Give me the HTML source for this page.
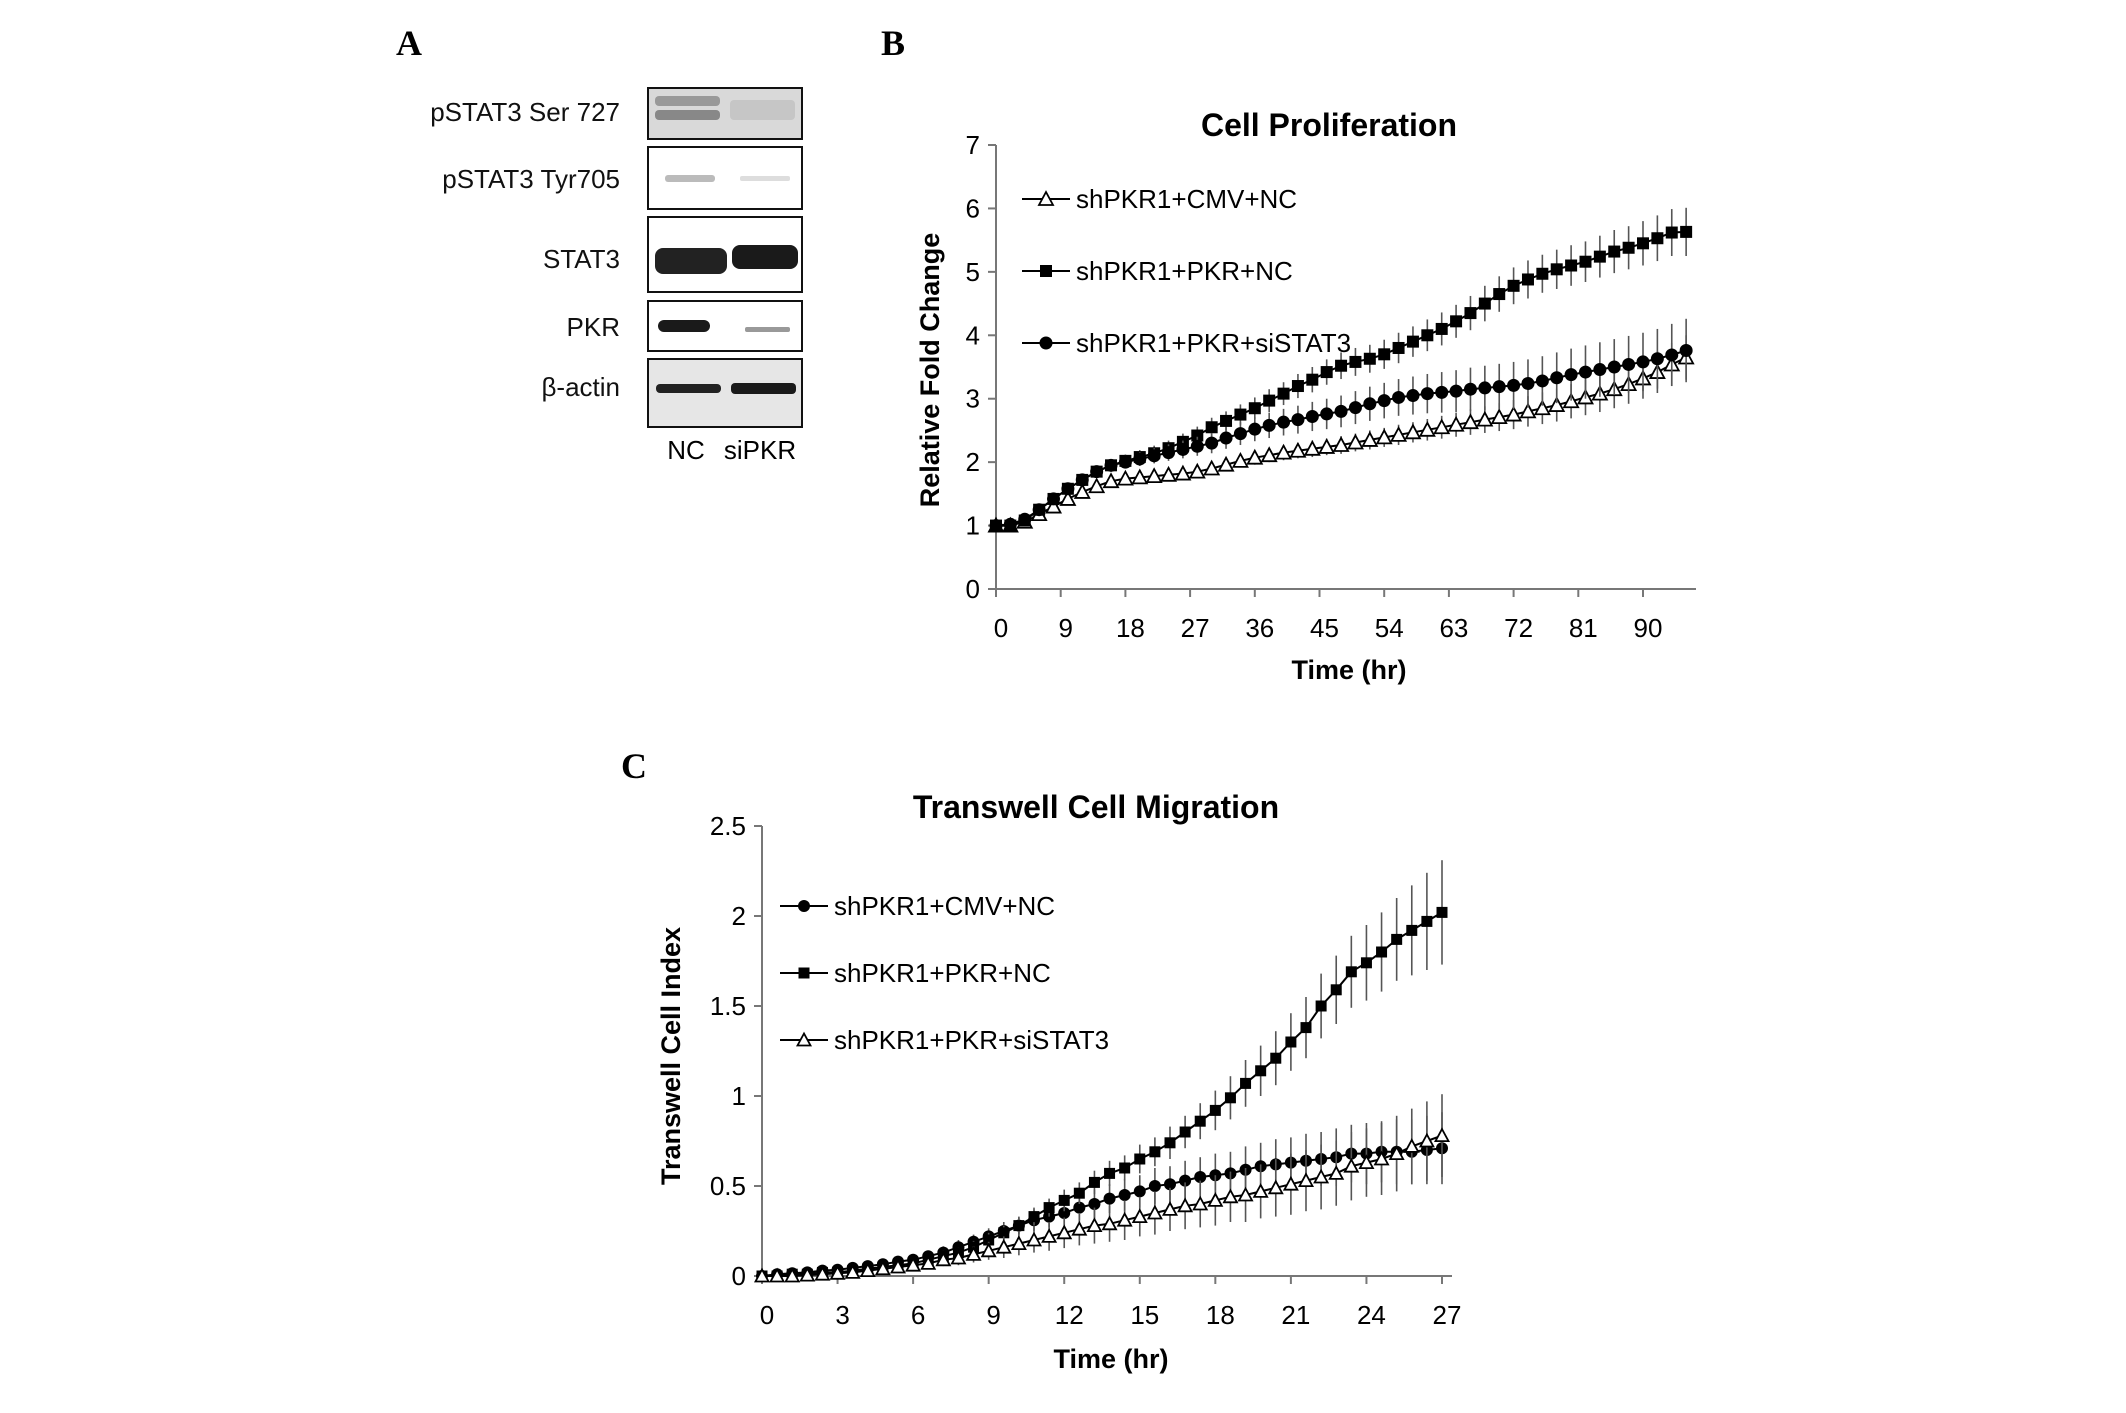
<!DOCTYPE html>
<html><head><meta charset="utf-8"><style>
html,body{margin:0;padding:0;background:#fff;}
body{width:2126px;height:1413px;overflow:hidden;position:relative;font-family:"Liberation Sans",sans-serif;}
svg{position:absolute;left:0;top:0;}
</style></head><body>
<svg id="fig" width="2126" height="1413" viewBox="0 0 2126 1413">
<g>
<text x="409" y="55" font-family="Liberation Serif" font-weight="bold" font-size="36" text-anchor="middle">A</text>
<g font-size="26" text-anchor="end" fill="#111">
<text x="620" y="121">pSTAT3 Ser 727</text>
<text x="620" y="188">pSTAT3 Tyr705</text>
<text x="620" y="268">STAT3</text>
<text x="620" y="336">PKR</text>
<text x="620" y="396">β-actin</text>
</g>
<g>
<rect x="648" y="88" width="154" height="51" fill="#d9d9d9" stroke="#111" stroke-width="2"/>
<rect x="655" y="96" width="65" height="10" rx="4" fill="#999"/>
<rect x="655" y="110" width="65" height="10" rx="4" fill="#888"/>
<rect x="730" y="100" width="65" height="20" rx="4" fill="#c6c6c6"/>
</g>
<g>
<rect x="648" y="147" width="154" height="62" fill="#fff" stroke="#111" stroke-width="2"/>
<rect x="665" y="175" width="50" height="7" rx="3" fill="#bbb"/>
<rect x="740" y="176" width="50" height="5" rx="2" fill="#ddd"/>
</g>
<g>
<rect x="648" y="217" width="154" height="75" fill="#fff" stroke="#111" stroke-width="2"/>
<rect x="655" y="248" width="72" height="26" rx="8" fill="#222"/>
<rect x="732" y="245" width="66" height="24" rx="8" fill="#1a1a1a"/>
</g>
<g>
<rect x="648" y="301" width="154" height="50" fill="#fff" stroke="#111" stroke-width="2"/>
<rect x="658" y="320" width="52" height="12" rx="6" fill="#1a1a1a"/>
<rect x="745" y="327" width="45" height="5" rx="2" fill="#999"/>
</g>
<g>
<rect x="648" y="359" width="154" height="68" fill="#e6e6e6" stroke="#111" stroke-width="2"/>
<rect x="656" y="384" width="65" height="9" rx="4" fill="#222"/>
<rect x="731" y="383" width="65" height="11" rx="4" fill="#1a1a1a"/>
</g>
<text x="686" y="459" font-size="26" text-anchor="middle">NC</text>
<text x="760" y="459" font-size="26" text-anchor="middle">siPKR</text>
</g>
<text x="893" y="55" font-family="Liberation Serif" font-weight="bold" font-size="36" text-anchor="middle">B</text>
<text x="634" y="778" font-family="Liberation Serif" font-weight="bold" font-size="36" text-anchor="middle">C</text>
<g id="chartB"></g>
<g id="chartC"></g>
</svg>
<script>
// ---- Chart B data ----
const bTimes = [0,2,4,6,8,10,12,14,16,18,20,22,24,26,28,30,32,34,36,38,40,42,44,46,48,50,52,54,56,58,60,62,64,66,68,70,72,74,76,78,80,82,84,86,88,90,92,94,96];
const bPKRNC = [1.0,1.0,1.08,1.25,1.42,1.58,1.72,1.85,1.95,2.02,2.08,2.14,2.22,2.32,2.42,2.55,2.65,2.75,2.85,2.97,3.08,3.2,3.3,3.42,3.52,3.58,3.63,3.7,3.8,3.9,4.0,4.1,4.22,4.35,4.5,4.65,4.78,4.88,4.97,5.04,5.1,5.16,5.24,5.32,5.38,5.45,5.53,5.62,5.63];
const bPKRNCErr = [0,0.02,0.03,0.05,0.06,0.07,0.08,0.09,0.1,0.1,0.11,0.12,0.12,0.13,0.14,0.15,0.15,0.16,0.17,0.18,0.18,0.19,0.2,0.2,0.21,0.22,0.22,0.23,0.24,0.24,0.25,0.26,0.26,0.27,0.28,0.28,0.29,0.3,0.3,0.31,0.32,0.32,0.33,0.34,0.34,0.35,0.36,0.37,0.38];
const bSiSTAT3 = [1.0,1.02,1.1,1.25,1.42,1.58,1.72,1.85,1.95,2.0,2.05,2.1,2.15,2.2,2.25,2.3,2.38,2.45,2.52,2.58,2.63,2.67,2.72,2.76,2.8,2.86,2.92,2.97,3.02,3.05,3.08,3.1,3.12,3.15,3.17,3.19,3.21,3.24,3.28,3.33,3.38,3.42,3.46,3.5,3.54,3.58,3.63,3.69,3.76];
const bSiSTAT3Err = [0,0.02,0.03,0.04,0.05,0.06,0.07,0.08,0.09,0.1,0.11,0.12,0.13,0.14,0.15,0.16,0.17,0.18,0.19,0.2,0.21,0.22,0.23,0.24,0.25,0.26,0.27,0.28,0.29,0.3,0.31,0.32,0.33,0.34,0.35,0.36,0.37,0.38,0.39,0.4,0.41,0.42,0.43,0.44,0.45,0.46,0.47,0.49,0.5];
const bCMVNC = [1.0,1.0,1.06,1.18,1.3,1.42,1.53,1.62,1.7,1.74,1.76,1.78,1.8,1.82,1.85,1.9,1.96,2.02,2.07,2.11,2.15,2.18,2.21,2.24,2.27,2.31,2.35,2.39,2.43,2.47,2.51,2.55,2.59,2.63,2.67,2.71,2.75,2.8,2.85,2.9,2.96,3.02,3.08,3.15,3.23,3.32,3.42,3.54,3.65];
const bCMVNCErr = [0,0.01,0.02,0.03,0.03,0.04,0.05,0.05,0.06,0.06,0.07,0.07,0.08,0.08,0.09,0.09,0.1,0.1,0.11,0.11,0.12,0.12,0.13,0.13,0.14,0.14,0.15,0.15,0.16,0.16,0.17,0.18,0.19,0.2,0.21,0.22,0.23,0.24,0.25,0.26,0.27,0.28,0.29,0.3,0.31,0.32,0.33,0.34,0.35];
const bXTicks = [0,9,18,27,36,45,54,63,72,81,90];
const bYTicks = [0,1,2,3,4,5,6,7];
// ---- Chart C data ----
const cTimes = [0,0.6,1.2,1.8,2.4,3.0,3.6,4.2,4.8,5.4,6.0,6.6,7.2,7.8,8.4,9.0,9.6,10.2,10.8,11.4,12.0,12.6,13.2,13.8,14.4,15.0,15.6,16.2,16.8,17.4,18.0,18.6,19.2,19.8,20.4,21.0,21.6,22.2,22.8,23.4,24.0,24.6,25.2,25.8,26.4,27.0];
const cCMVNC = [0,0.01,0.015,0.02,0.03,0.035,0.045,0.055,0.065,0.08,0.09,0.11,0.13,0.16,0.19,0.22,0.25,0.28,0.31,0.33,0.35,0.38,0.4,0.43,0.45,0.47,0.5,0.51,0.53,0.55,0.56,0.57,0.59,0.61,0.62,0.63,0.64,0.65,0.66,0.68,0.68,0.69,0.69,0.69,0.7,0.71];
const cCMVNCErr = [0,0.005,0.01,0.01,0.01,0.015,0.015,0.02,0.02,0.025,0.03,0.03,0.035,0.04,0.04,0.045,0.05,0.05,0.06,0.06,0.07,0.07,0.08,0.08,0.09,0.09,0.1,0.1,0.11,0.11,0.12,0.12,0.13,0.13,0.14,0.14,0.15,0.15,0.16,0.16,0.17,0.17,0.18,0.18,0.19,0.2];
const cPKRNC = [0,0,0.01,0.01,0.02,0.02,0.03,0.04,0.05,0.06,0.07,0.09,0.11,0.13,0.16,0.2,0.24,0.28,0.33,0.38,0.42,0.46,0.52,0.57,0.6,0.65,0.69,0.74,0.8,0.86,0.92,0.99,1.07,1.14,1.21,1.3,1.38,1.5,1.59,1.69,1.74,1.8,1.87,1.92,1.97,2.02];
const cPKRNCErr = [0,0,0.005,0.005,0.01,0.01,0.01,0.015,0.015,0.02,0.02,0.025,0.03,0.03,0.035,0.04,0.04,0.045,0.05,0.05,0.06,0.06,0.065,0.07,0.07,0.08,0.08,0.09,0.09,0.1,0.11,0.12,0.13,0.14,0.15,0.16,0.17,0.18,0.19,0.2,0.21,0.22,0.23,0.25,0.27,0.29];
const cSiSTAT3 = [0,0,0,0.005,0.01,0.015,0.02,0.03,0.04,0.05,0.06,0.07,0.09,0.1,0.12,0.14,0.16,0.18,0.2,0.22,0.24,0.26,0.28,0.29,0.31,0.33,0.35,0.37,0.39,0.4,0.42,0.44,0.45,0.47,0.49,0.51,0.53,0.55,0.57,0.61,0.63,0.65,0.68,0.72,0.75,0.78];
const cSiSTAT3Err = [0,0,0.005,0.005,0.01,0.01,0.015,0.015,0.02,0.02,0.025,0.03,0.035,0.04,0.045,0.05,0.06,0.065,0.07,0.08,0.085,0.09,0.1,0.1,0.11,0.11,0.12,0.12,0.13,0.13,0.14,0.14,0.15,0.15,0.16,0.17,0.17,0.18,0.18,0.19,0.19,0.2,0.21,0.21,0.22,0.23];
const cXTicks = [0,3,6,9,12,15,18,21,24,27];
const cYTicks = [0,0.5,1,1.5,2,2.5];
const cYTickLabels = ["0","0.5","1","1.5","2","2.5"];

const NS = "http://www.w3.org/2000/svg";
function mk(parent, tag, attrs, text){
  const e = document.createElementNS(NS, tag);
  for (const k in attrs) e.setAttribute(k, attrs[k]);
  if (text !== undefined) e.textContent = text;
  parent.appendChild(e);
  return e;
}
function marker(g, type, x, y, s){
  let m;
  if (type === 'square') m = mk(g, 'rect', {x:x-s/2, y:y-s/2, width:s, height:s, fill:'#000'});
  else if (type === 'circle') m = mk(g, 'circle', {cx:x, cy:y, r:s/2+0.5, fill:'#000'});
  else m = mk(g, 'polygon', {points:`${x},${y-s/2-1} ${x-s/2-1},${y+s/2} ${x+s/2+1},${y+s/2}`, fill:'#fff', stroke:'#000', 'stroke-width':1.8});
  return m;
}
function drawChart(root, cfg){
  const X = v => cfg.x0 + (v - cfg.xmin) / (cfg.xmax - cfg.xmin) * (cfg.x1 - cfg.x0);
  const Y = v => cfg.y0 - (v - cfg.ymin) / (cfg.ymax - cfg.ymin) * (cfg.y0 - cfg.y1);
  const t = mk(root, 'text', {x:cfg.titleX, y:cfg.titleY, 'font-size':32, 'font-weight':'bold', 'text-anchor':'middle'}, cfg.title);
  
  
  const ax = mk(root, 'g', {stroke:'#777', 'stroke-width':2});
  
  
  mk(ax, 'line', {x1:cfg.x0, y1:Y(cfg.ymax), x2:cfg.x0, y2:cfg.y0});
  mk(ax, 'line', {x1:cfg.x0, y1:cfg.y0, x2:cfg.xend, y2:cfg.y0});
  cfg.yTicks.forEach((v,i)=>{
    mk(ax, 'line', {x1:cfg.x0-8, y1:Y(v), x2:cfg.x0, y2:Y(v)});
    const l = mk(root, 'text', {x:cfg.x0-16, y:Y(v)+9, 'font-size':26, 'text-anchor':'end'}, cfg.yLabels ? cfg.yLabels[i] : String(v));
    
    
  });
  cfg.xTicks.forEach(v=>{
    mk(ax, 'line', {x1:X(v), y1:cfg.y0, x2:X(v), y2:cfg.y0+8});
    const l = mk(root, 'text', {x:X(v)+5, y:cfg.y0+48, 'font-size':26, 'text-anchor':'middle'}, String(v));
    
    
  });
  const xt = mk(root, 'text', {x:cfg.xtX, y:cfg.xtY, 'font-size':27, 'font-weight':'bold', 'text-anchor':'middle'}, 'Time (hr)');
  
  
  const yt = mk(root, 'text', {x:0, y:0, 'font-size':27, 'font-weight':'bold', 'text-anchor':'middle', transform:`translate(${cfg.ytX},${cfg.ytY}) rotate(-90)`}, cfg.yTitle);
  
  
  cfg.series.forEach((s, si)=>{
    const g = mk(root, 'g', {});
    
    
    const eg = mk(g, 'g', {stroke:'#555', 'stroke-width':1.6});
    s.vals.forEach((v,i)=>{
      if (s.err[i] > 0) {
        const eb = mk(eg, 'line', {x1:X(cfg.times[i]), y1:Y(v - s.err[i]), x2:X(cfg.times[i]), y2:Y(v + s.err[i])});
        
        
      }
    });
    const pts = s.vals.map((v,i)=>X(cfg.times[i]).toFixed(1)+','+Y(v).toFixed(1)).join(' ');
    mk(g, 'polyline', {points:pts, fill:'none', stroke:'#000', 'stroke-width':2});
    s.vals.forEach((v,i)=>{
      const m = marker(g, s.type, X(cfg.times[i]), Y(v), cfg.ms);
      
      
    });
    const ly = cfg.legY[si];
    const lg = mk(root, 'g', {});
    
    
    mk(lg, 'line', {x1:cfg.legX, y1:ly, x2:cfg.legX+48, y2:ly, stroke:'#000', 'stroke-width':2});
    marker(lg, s.type, cfg.legX+24, ly, cfg.ms);
    mk(lg, 'text', {x:cfg.legX+54, y:ly+9, 'font-size':26}, s.name);
  });
}
drawChart(document.getElementById('chartB'), {
  x0:996, x1:1643, xmin:0, xmax:90, xend:1696, y0:589, y1:145, ymin:0, ymax:7,
  times:bTimes, xTicks:bXTicks, yTicks:bYTicks, ms:12,
  title:'Cell Proliferation', titleX:1329, titleY:136,
  yTitle:'Relative Fold Change', ytX:939, ytY:370, xtX:1349, xtY:679,
  legX:1022, legY:[199,271,343],
  series:[
    {id:'shpkr1-cmv-nc', name:'shPKR1+CMV+NC', type:'triangle', vals:bCMVNC, err:bCMVNCErr},
    {id:'shpkr1-pkr-nc', name:'shPKR1+PKR+NC', type:'square', vals:bPKRNC, err:bPKRNCErr},
    {id:'shpkr1-pkr-sistat3', name:'shPKR1+PKR+siSTAT3', type:'circle', vals:bSiSTAT3, err:bSiSTAT3Err}
  ]
});
drawChart(document.getElementById('chartC'), {
  x0:762, x1:1442, xmin:0, xmax:27, xend:1452, y0:1276, y1:826, ymin:0, ymax:2.5,
  times:cTimes, xTicks:cXTicks, yTicks:cYTicks, yLabels:cYTickLabels, ms:11,
  title:'Transwell Cell Migration', titleX:1096, titleY:818,
  yTitle:'Transwell Cell Index', ytX:680, ytY:1056, xtX:1111, xtY:1368,
  legX:780, legY:[906,973,1040],
  series:[
    {id:'shpkr1-cmv-nc', name:'shPKR1+CMV+NC', type:'circle', vals:cCMVNC, err:cCMVNCErr},
    {id:'shpkr1-pkr-nc', name:'shPKR1+PKR+NC', type:'square', vals:cPKRNC, err:cPKRNCErr},
    {id:'shpkr1-pkr-sistat3', name:'shPKR1+PKR+siSTAT3', type:'triangle', vals:cSiSTAT3, err:cSiSTAT3Err}
  ]
});
</script>
</body></html>
